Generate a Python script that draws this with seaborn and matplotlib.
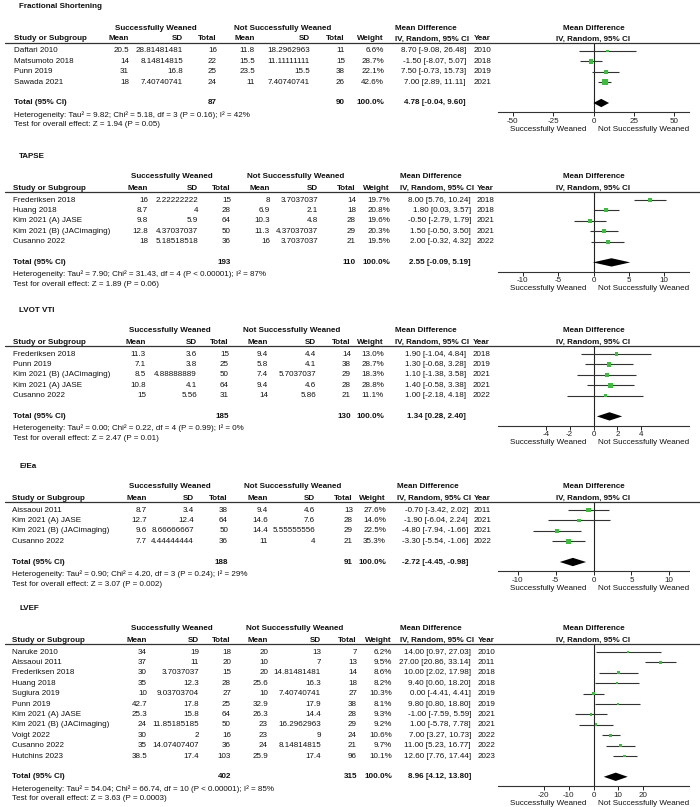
import numpy as np
import pandas as pd
import matplotlib.pyplot as plt
import seaborn as sns
from matplotlib.lines import Line2D

# ---------------- dades ----------------
# Fractional Shortening
fs_study = ["Daftari 2010", "Matsumoto 2018", "Punn 2019", "Sawada 2021"]
fs_sw_mean = ["20.5", "14", "31", "18"]
fs_sw_sd = ["28.81481481", "8.14814815", "16.8", "7.40740741"]
fs_sw_n = [16, 22, 25, 24]
fs_nsw_mean = ["11.8", "15.5", "23.5", "11"]
fs_nsw_sd = ["18.2962963", "11.11111111", "15.5", "7.40740741"]
fs_nsw_n = [11, 15, 38, 26]
fs_weight = [6.6, 28.7, 22.1, 42.6]
fs_md = [8.70, -1.50, 7.50, 7.00]
fs_lo = [-9.08, -8.07, -0.73, 2.89]
fs_hi = [26.48, 5.07, 15.73, 11.11]
fs_year = [2010, 2018, 2019, 2021]
fs_total = [87, 90, 4.78, -0.04, 9.60]
fs_het = "Heterogeneity: Tau² = 9.82; Chi² = 5.18, df = 3 (P = 0.16); I² = 42%"
fs_test = "Test for overall effect: Z = 1.94 (P = 0.05)"
fs_ticks = [-50, -25, 0, 25, 50]

# TAPSE
tp_study = ["Frederiksen 2018", "Huang 2018", "Kim 2021 (A) JASE",
            "Kim 2021 (B) (JACimaging)", "Cusanno 2022"]
tp_sw_mean = ["16", "8.7", "9.8", "12.8", "18"]
tp_sw_sd = ["2.22222222", "4", "5.9", "4.37037037", "5.18518518"]
tp_sw_n = [15, 28, 64, 50, 36]
tp_nsw_mean = ["8", "6.9", "10.3", "11.3", "16"]
tp_nsw_sd = ["3.7037037", "2.1", "4.8", "4.37037037", "3.7037037"]
tp_nsw_n = [14, 18, 28, 29, 21]
tp_weight = [19.7, 20.8, 19.6, 20.3, 19.5]
tp_md = [8.00, 1.80, -0.50, 1.50, 2.00]
tp_lo = [5.76, 0.03, -2.79, -0.50, -0.32]
tp_hi = [10.24, 3.57, 1.79, 3.50, 4.32]
tp_year = [2018, 2018, 2021, 2021, 2022]
tp_total = [193, 110, 2.55, -0.09, 5.19]
tp_het = "Heterogeneity: Tau² = 7.90; Chi² = 31.43, df = 4 (P < 0.00001); I² = 87%"
tp_test = "Test for overall effect: Z = 1.89 (P = 0.06)"
tp_ticks = [-10, -5, 0, 5, 10]

# LVOT VTI
lv_study = ["Frederiksen 2018", "Punn 2019", "Kim 2021 (B) (JACimaging)",
            "Kim 2021 (A) JASE", "Cusanno 2022"]
lv_sw_mean = ["11.3", "7.1", "8.5", "10.8", "15"]
lv_sw_sd = ["3.6", "3.8", "4.88888889", "4.1", "5.56"]
lv_sw_n = [15, 25, 50, 64, 31]
lv_nsw_mean = ["9.4", "5.8", "7.4", "9.4", "14"]
lv_nsw_sd = ["4.4", "4.1", "5.7037037", "4.6", "5.86"]
lv_nsw_n = [14, 38, 29, 28, 21]
lv_weight = [13.0, 28.7, 18.3, 28.8, 11.1]
lv_md = [1.90, 1.30, 1.10, 1.40, 1.00]
lv_lo = [-1.04, -0.68, -1.38, -0.58, -2.18]
lv_hi = [4.84, 3.28, 3.58, 3.38, 4.18]
lv_year = [2018, 2019, 2021, 2021, 2022]
lv_total = [185, 130, 1.34, 0.28, 2.40]
lv_het = "Heterogeneity: Tau² = 0.00; Chi² = 0.22, df = 4 (P = 0.99); I² = 0%"
lv_test = "Test for overall effect: Z = 2.47 (P = 0.01)"
lv_ticks = [-4, -2, 0, 2, 4]

# E/Ea
ee_study = ["Aissaoui 2011", "Kim 2021 (A) JASE", "Kim 2021 (B) (JACimaging)", "Cusanno 2022"]
ee_sw_mean = ["8.7", "12.7", "9.6", "7.7"]
ee_sw_sd = ["3.4", "12.4", "8.66666667", "4.44444444"]
ee_sw_n = [38, 64, 50, 36]
ee_nsw_mean = ["9.4", "14.6", "14.4", "11"]
ee_nsw_sd = ["4.6", "7.6", "5.55555556", "4"]
ee_nsw_n = [13, 28, 29, 21]
ee_weight = [27.6, 14.6, 22.5, 35.3]
ee_md = [-0.70, -1.90, -4.80, -3.30]
ee_lo = [-3.42, -6.04, -7.94, -5.54]
ee_hi = [2.02, 2.24, -1.66, -1.06]
ee_year = [2011, 2021, 2021, 2022]
ee_total = [188, 91, -2.72, -4.45, -0.98]
ee_het = "Heterogeneity: Tau² = 0.90; Chi² = 4.20, df = 3 (P = 0.24); I² = 29%"
ee_test = "Test for overall effect: Z = 3.07 (P = 0.002)"
ee_ticks = [-10, -5, 0, 5, 10]

# LVEF
ef_study = ["Naruke 2010", "Aissaoui 2011", "Frederiksen 2018", "Huang 2018", "Sugiura 2019",
            "Punn 2019", "Kim 2021 (A) JASE", "Kim 2021 (B) (JACimaging)", "Voigt 2022",
            "Cusanno 2022", "Hutchins 2023"]
ef_sw_mean = ["34", "37", "30", "35", "10", "42.7", "25.3", "24", "30", "35", "38.5"]
ef_sw_sd = ["19", "11", "3.7037037", "12.3", "9.03703704", "17.8", "15.8", "11.85185185",
            "2", "14.07407407", "17.4"]
ef_sw_n = [18, 20, 15, 28, 27, 25, 64, 50, 16, 36, 103]
ef_nsw_mean = ["20", "10", "20", "25.6", "10", "32.9", "26.3", "23", "23", "24", "25.9"]
ef_nsw_sd = ["13", "7", "14.81481481", "16.3", "7.40740741", "17.9", "14.4", "16.2962963",
             "9", "8.14814815", "17.4"]
ef_nsw_n = [7, 13, 14, 18, 27, 38, 28, 29, 24, 21, 96]
ef_weight = [6.2, 9.5, 8.6, 8.2, 10.3, 8.1, 9.3, 9.2, 10.6, 9.7, 10.1]
ef_md = [14.00, 27.00, 10.00, 9.40, 0.00, 9.80, -1.00, 1.00, 7.00, 11.00, 12.60]
ef_lo = [0.97, 20.86, 2.02, 0.60, -4.41, 0.80, -7.59, -5.78, 3.27, 5.23, 7.76]
ef_hi = [27.03, 33.14, 17.98, 18.20, 4.41, 18.80, 5.59, 7.78, 10.73, 16.77, 17.44]
ef_year = [2010, 2011, 2018, 2018, 2019, 2019, 2021, 2021, 2022, 2022, 2023]
ef_total = [402, 315, 8.96, 4.12, 13.80]
ef_het = "Heterogeneity: Tau² = 54.04; Chi² = 66.74, df = 10 (P < 0.00001); I² = 85%"
ef_test = "Test for overall effect: Z = 3.63 (P = 0.0003)"
ef_ticks = [-20, -10, 0, 10, 20]

panels = [
    ("Fractional Shortening", fs_study, fs_sw_mean, fs_sw_sd, fs_sw_n, fs_nsw_mean, fs_nsw_sd,
     fs_nsw_n, fs_weight, fs_md, fs_lo, fs_hi, fs_year, fs_total, fs_het, fs_test, fs_ticks),
    ("TAPSE", tp_study, tp_sw_mean, tp_sw_sd, tp_sw_n, tp_nsw_mean, tp_nsw_sd,
     tp_nsw_n, tp_weight, tp_md, tp_lo, tp_hi, tp_year, tp_total, tp_het, tp_test, tp_ticks),
    ("LVOT VTI", lv_study, lv_sw_mean, lv_sw_sd, lv_sw_n, lv_nsw_mean, lv_nsw_sd,
     lv_nsw_n, lv_weight, lv_md, lv_lo, lv_hi, lv_year, lv_total, lv_het, lv_test, lv_ticks),
    ("E/Ea", ee_study, ee_sw_mean, ee_sw_sd, ee_sw_n, ee_nsw_mean, ee_nsw_sd,
     ee_nsw_n, ee_weight, ee_md, ee_lo, ee_hi, ee_year, ee_total, ee_het, ee_test, ee_ticks),
    ("LVEF", ef_study, ef_sw_mean, ef_sw_sd, ef_sw_n, ef_nsw_mean, ef_nsw_sd,
     ef_nsw_n, ef_weight, ef_md, ef_lo, ef_hi, ef_year, ef_total, ef_het, ef_test, ef_ticks),
]

# disposició (píxels): y de la capçalera de grup, columnes, mig ample de l'eix
layout = [
    (28, [14, 129, 183, 217, 255, 310, 345, 384, 466, 474], 59.0),
    (177, [13, 148, 198, 231, 270, 318, 356, 390, 471, 477], 13.5),
    (331, [13, 146, 197, 229, 268, 316, 351, 384, 466, 473], 8.0),
    (487, [12, 147, 194, 228, 268, 315, 353, 386, 468, 474], 12.6),
    (629, [12, 147, 199, 231, 268, 321, 357, 392, 471, 478], 38.5),
]

W, H = 700, 807
ROW = 10.4
FSZ = 5.8
GREEN = "#3dbd3d"
AX_L, AX_R = 498, 689

sns.set_style("white")
plt.rcParams["font.family"] = ["Liberation Sans", "DejaVu Sans"]
plt.rcParams["axes.unicode_minus"] = False

fig = plt.figure(figsize=(7, 8.07), dpi=100)


def txt(x, y, s, ha="left", bold=False):
    fig.text(x / W, 1 - y / H, s, ha=ha, va="center", fontsize=FSZ,
             fontweight="bold" if bold else "normal", color="#111111")


for p, (g, cols, half) in zip(panels, layout):
    (title, study, sw_mean, sw_sd, sw_n, nsw_mean, nsw_sd, nsw_n,
     weight, md, lo, hi, year, total, het, test, ticks) = p
    n = len(study)
    name_x, swm, swsd, swn, nm, nsd, nn, wx, cix, yx = cols

    # capçaleres
    txt(19, g - 21, title, bold=True)
    txt((swm - 35 + swn) / 2, g, "Successfully Weaned", ha="center", bold=True)
    txt((nm - 35 + nn) / 2, g, "Not Successfully Weaned", ha="center", bold=True)
    txt(cix - 40, g, "Mean Difference", ha="center", bold=True)
    txt((AX_L + AX_R) / 2, g, "Mean Difference", ha="center", bold=True)
    hy = g + 11
    txt(name_x, hy, "Study or Subgroup", bold=True)
    for x, lab in [(swm, "Mean"), (swsd, "SD"), (swn, "Total"), (nm, "Mean"),
                   (nsd, "SD"), (nn, "Total"), (wx, "Weight")]:
        txt(x, hy, lab, ha="right", bold=True)
    txt(cix + 3, hy, "IV, Random, 95% CI", ha="right", bold=True)
    txt(yx, hy, "Year", bold=True)
    txt((AX_L + AX_R) / 2, hy, "IV, Random, 95% CI", ha="center", bold=True)
    line_y = g + 15
    fig.add_artist(Line2D([5 / W, 1.0], [1 - line_y / H] * 2, color="#333333", lw=0.9))

    # files d'estudis
    row0 = g + 23
    for i in range(n):
        y = row0 + i * ROW
        txt(name_x, y, study[i])
        txt(swm, y, sw_mean[i], ha="right")
        txt(swsd, y, sw_sd[i], ha="right")
        txt(swn, y, str(sw_n[i]), ha="right")
        txt(nm, y, nsw_mean[i], ha="right")
        txt(nsd, y, nsw_sd[i], ha="right")
        txt(nn, y, str(nsw_n[i]), ha="right")
        txt(wx, y, f"{weight[i]:.1f}%", ha="right")
        txt(cix, y, f"{md[i]:.2f} [{lo[i]:.2f}, {hi[i]:.2f}]", ha="right")
        txt(yx, y, str(year[i]))

    ty = row0 + (n + 1) * ROW
    txt(name_x, ty, "Total (95% CI)", bold=True)
    txt(swn, ty, str(total[0]), ha="right", bold=True)
    txt(nn, ty, str(total[1]), ha="right", bold=True)
    txt(wx, ty, "100.0%", ha="right", bold=True)
    txt(cix, ty, f"{total[2]:.2f} [{total[3]:.2f}, {total[4]:.2f}]", ha="right", bold=True)
    txt(name_x, ty + 12, het)
    txt(name_x, ty + 22, test)

    # forest plot
    axis_y = row0 + (n + 1.9) * ROW
    ax = fig.add_axes([AX_L / W, 1 - axis_y / H, (AX_R - AX_L) / W, (axis_y - line_y) / H])
    ax.set_facecolor("none")
    df = pd.DataFrame({"row": np.arange(n), "md": md, "lo": lo, "hi": hi, "weight": weight})
    ax.hlines(df["row"], df["lo"], df["hi"], color="#333333", lw=0.8, zorder=2)
    sns.scatterplot(data=df, x="md", y="row", size="weight", sizes=(0, 21), size_norm=(0, 50),
                    marker="s", color=GREEN, linewidth=0, legend=False, ax=ax, zorder=3)
    d = 0.4
    ax.fill([total[3], total[2], total[4], total[2]], [n + 1, n + 1 - d, n + 1, n + 1 + d],
            color="black", lw=0, zorder=3)
    ax.axvline(0, color="#222222", lw=0.8, zorder=1)
    ax.set_xlim(-half, half)
    ax.set_ylim(n + 1.9, -(row0 - line_y) / ROW)
    ax.set_yticks([])
    ax.set_xticks(ticks)
    ax.set_xticklabels([str(t) for t in ticks])
    ax.tick_params(axis="x", direction="out", length=3, width=0.7, pad=1,
                   labelsize=FSZ, colors="#222222", bottom=True)
    ax.set_xlabel("")
    ax.set_ylabel("")
    for s in ["top", "left", "right"]:
        ax.spines[s].set_visible(False)
    ax.spines["bottom"].set_color("#333333")
    ax.spines["bottom"].set_linewidth(0.8)

    zx = (AX_L + AX_R) / 2
    txt(zx - 45, axis_y + 17, "Successfully Weaned", ha="center")
    txt(zx + 50, axis_y + 17, "Not Successfully Weaned", ha="center")

plt.savefig("out.png", dpi=100)
